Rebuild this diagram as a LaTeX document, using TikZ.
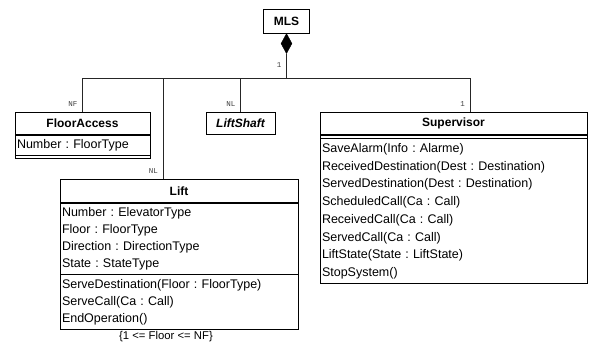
\documentclass[tikz,border=0pt]{standalone}
\usepackage{fontspec}
\setmainfont{Liberation Sans}
\setmonofont{Liberation Mono}
\usetikzlibrary{shapes.geometric}
\usetikzlibrary{positioning}
\frenchspacing

\tikzset{
  classname/.style={draw, line width=0.7pt, font=\bfseries\fontsize{12}{14}\selectfont, minimum height=22pt, inner sep=0pt},
  abstractname/.style={classname, font=\bfseries\itshape\fontsize{12}{14}\selectfont},
  compart/.style={draw, line width=0.7pt, anchor=north, align=left, inner xsep=2pt, inner ysep=0pt},
  agg/.style={diamond, draw, fill=black, minimum width=11pt, minimum height=20pt, inner sep=0pt},
  mult/.style={font=\ttfamily\fontsize{7.5}{8}\selectfont, text=black!75, inner sep=0pt},
  link/.style={line width=0.7pt, black!85}
}

\begin{document}
\begin{tikzpicture}[x=1pt,y=-1pt]
    \useasboundingbox (0,0) rectangle (594,347);
    % 组合根
    \node[classname, minimum width=46pt, minimum height=24pt] (mls) at (286.5,21) {MLS};
    \node[agg, anchor=north] (agg) at (mls.south) {};
    % 类
    \node[classname, minimum width=135pt, anchor=north] (fa) at (82.5,112) {FloorAccess};
    \node[compart, text width=131pt, minimum height=20pt, font=\fontsize{12.5}{17}\selectfont] (faattr) at (fa.south) {Number : FloorType};
    \node[compart, minimum width=135pt, minimum height=3pt] (faops) at (faattr.south) {};

    \node[abstractname, minimum width=69pt, anchor=north] (shaft) at (240.5,112) {LiftShaft};

    \node[classname, minimum width=238pt, minimum height=23pt, anchor=north] (lift) at (179,179) {Lift};
    \node[compart, text width=234pt, minimum height=71pt, font=\fontsize{12.5}{17}\selectfont] (liftattr) at (lift.south) {Number : ElevatorType\\Floor : FloorType\\Direction : DirectionType\\State : StateType};
    \node[compart, text width=234pt, minimum height=55pt, font=\fontsize{12.5}{17}\selectfont] (liftops) at (liftattr.south) {ServeDestination(Floor : FloorType)\\ServeCall(Ca : Call)\\EndOperation()};
    \node[below=1.5pt of liftops, xshift=-13pt, inner sep=0pt, font=\fontsize{11.3}{13}\selectfont] (liftnote) {\{1 <= Floor <= NF\}};

    \node[classname, minimum width=267pt, anchor=north] (sup) at (453.5,112) {Supervisor};
    \node[compart, minimum width=267pt, minimum height=3pt] (supattr) at (sup.south) {};
    \node[compart, text width=263pt, minimum height=145pt, font=\fontsize{12.5}{17.7}\selectfont] (supops) at (supattr.south) {SaveAlarm(Info : Alarme)\\ReceivedDestination(Dest : Destination)\\ServedDestination(Dest : Destination)\\ScheduledCall(Ca : Call)\\ReceivedCall(Ca : Call)\\ServedCall(Ca : Call)\\LiftState(State : LiftState)\\StopSystem()};

    % 连线
    \coordinate (hub) at ([yshift=-25pt]agg.south);
    \coordinate (liftend) at ([xshift=-16pt]lift.north);
    \coordinate (supend) at ([xshift=16.5pt]sup.north);
    \draw[link] (agg.south) -- (hub) -| (fa.north);
    \draw[link] (hub) -| (shaft.north);
    \draw[link] (hub) -| (liftend);
    \draw[link] (hub) -| (supend);

    \node[mult, below left=9pt and 5pt of agg.south] (m1) {1};
    \node[mult, above left=5pt and 5pt of fa.north] (m2) {NF};
    \node[mult, above left=5pt and 5pt of shaft.north] (m3) {NL};
    \node[mult, above left=5pt and 5pt of liftend] (m4) {NL};
    \node[mult, above left=5pt and 5pt of supend] (m5) {1};
\end{tikzpicture}
\end{document}
